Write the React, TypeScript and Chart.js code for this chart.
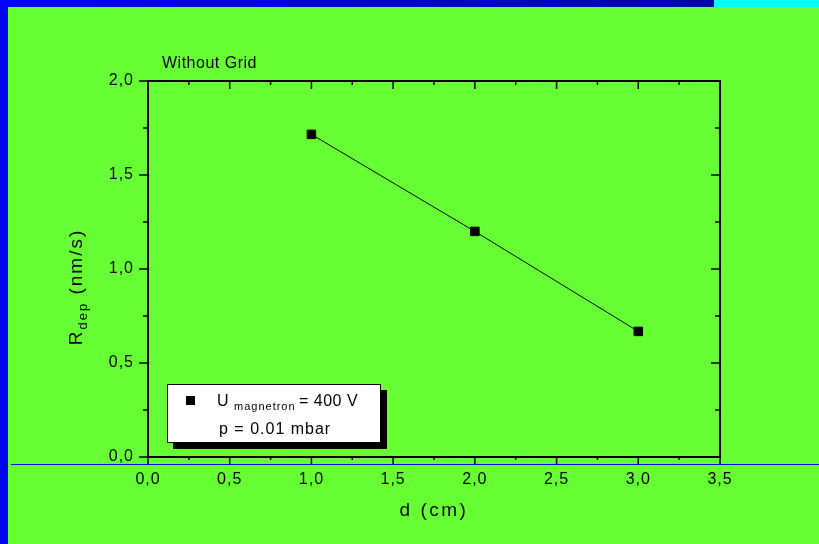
import { useEffect, useRef } from 'react';
import { Chart, registerables } from 'chart.js';

Chart.register(...registerables);

// Deposition rate versus target distance
const distances = [1.0, 2.0, 3.0];
const depositionRates = [1.716, 1.2, 0.668];

const xTickValues = [0, 0.5, 1.0, 1.5, 2.0, 2.5, 3.0, 3.5];
const yTickValues = [0, 0.5, 1.0, 1.5, 2.0];

const chartNote = 'Without Grid';
const xTitle = 'd (cm)';
const yTitleMain = 'R';
const yTitleSub = 'dep';
const yTitleRest = ' (nm/s)';
const legendMain = 'U';
const legendSub = 'magnetron';
const legendRest = '= 400 V';
const legendSecond = 'p = 0.01 mbar';

const FONT = '"Liberation Sans", Arial, Helvetica, sans-serif';
const fmt = (v: number) => v.toFixed(1).replace('.', ',');

const decorPlugin = {
  id: 'decor',
  beforeDraw(chart: any) {
    const { ctx, width, height } = chart;
    ctx.save();
    ctx.fillStyle = '#66ff33';
    ctx.fillRect(0, 0, width, height);
    const grad = ctx.createLinearGradient(0, 0, 714, 0);
    grad.addColorStop(0, '#0000ff');
    grad.addColorStop(1, '#0000b0');
    ctx.fillStyle = grad;
    ctx.fillRect(0, 0, 714, 7);
    ctx.fillStyle = '#00ffff';
    ctx.fillRect(714, 0, width - 714, 7);
    ctx.fillStyle = '#0000ff';
    ctx.fillRect(0, 0, 8, height);
    ctx.fillRect(11, 464, width - 11, 1);
    ctx.restore();
    // wider spacing for the tick labels drawn by the scales
    ctx.letterSpacing = '1px';
  },
  afterDraw(chart: any) {
    const { ctx, chartArea } = chart;
    const xs = chart.scales.x;
    const ys = chart.scales.y;
    const { left, right, top, bottom } = chartArea;
    ctx.save();
    ctx.letterSpacing = '0px';
    ctx.strokeStyle = '#000';

    // frame
    ctx.lineWidth = 2;
    ctx.strokeRect(left, top, right - left, bottom - top);

    // tick marks (major every 0.5, minor every 0.25)
    ctx.lineWidth = 1.5;
    ctx.beginPath();
    for (let i = 0; i <= 14; i++) {
      const v = i * 0.25;
      const major = i % 2 === 0;
      const px = xs.getPixelForValue(v);
      ctx.moveTo(px, bottom);
      ctx.lineTo(px, bottom + (major ? 7 : 3));
      ctx.moveTo(px, top);
      ctx.lineTo(px, top + (major ? 8 : 4));
    }
    for (let i = 0; i <= 8; i++) {
      const v = i * 0.25;
      const major = i % 2 === 0;
      const py = ys.getPixelForValue(v);
      ctx.moveTo(left, py);
      ctx.lineTo(left - (major ? 9 : 5), py);
      ctx.moveTo(right, py);
      ctx.lineTo(right - (major ? 9 : 5), py);
    }
    ctx.stroke();

    ctx.fillStyle = '#000';
    ctx.textBaseline = 'alphabetic';

    // note above the frame
    ctx.font = `16px ${FONT}`;
    ctx.letterSpacing = '0.5px';
    ctx.textAlign = 'left';
    ctx.fillText(chartNote, 162, 68);

    // x title
    ctx.font = `19px ${FONT}`;
    ctx.letterSpacing = '2.5px';
    ctx.textAlign = 'center';
    ctx.fillText(xTitle, 434, 516);

    // y title with subscript
    ctx.save();
    ctx.translate(82, 287);
    ctx.rotate(-Math.PI / 2);
    ctx.textAlign = 'left';
    ctx.letterSpacing = '2px';
    ctx.font = `19px ${FONT}`;
    const wR = ctx.measureText(yTitleMain).width;
    const wRest = ctx.measureText(yTitleRest).width;
    ctx.font = `13px ${FONT}`;
    const wSub = ctx.measureText(yTitleSub).width;
    let cx = -(wR + wSub + wRest) / 2;
    ctx.font = `19px ${FONT}`;
    ctx.fillText(yTitleMain, cx, 0);
    cx += wR;
    ctx.font = `13px ${FONT}`;
    ctx.fillText(yTitleSub, cx, 5);
    cx += wSub;
    ctx.font = `19px ${FONT}`;
    ctx.fillText(yTitleRest, cx, 0);
    ctx.restore();

    // legend box with drop shadow
    const bx = 167, by = 384, bw = 214, bh = 59;
    ctx.fillStyle = '#000';
    ctx.fillRect(bx + 6, by + 6, bw, bh);
    ctx.fillStyle = '#fff';
    ctx.fillRect(bx, by, bw, bh);
    ctx.lineWidth = 1;
    ctx.strokeStyle = '#000';
    ctx.strokeRect(bx + 0.5, by + 0.5, bw - 1, bh - 1);
    ctx.fillStyle = '#000';
    ctx.fillRect(186, 396, 9, 9);

    ctx.textAlign = 'left';
    ctx.font = `16px ${FONT}`;
    ctx.letterSpacing = '0.5px';
    ctx.fillText(legendMain, 217, 406);
    ctx.font = `11px ${FONT}`;
    ctx.letterSpacing = '1px';
    ctx.fillText(legendSub, 234, 410);
    ctx.font = `16px ${FONT}`;
    ctx.letterSpacing = '0.5px';
    ctx.fillText(legendRest, 299, 406);
    ctx.font = `16px ${FONT}`;
    ctx.letterSpacing = '1px';
    ctx.fillText(legendSecond, 219, 434);

    ctx.restore();
    ctx.letterSpacing = '0px';
  },
};

export default function App() {
  const canvasRef = useRef<HTMLCanvasElement | null>(null);

  useEffect(() => {
    document.body.style.margin = '0';
    const canvas = canvasRef.current;
    if (!canvas) return;
    const chart = new Chart(canvas, {
      type: 'line',
      data: {
        datasets: [
          {
            data: distances.map((d, i) => ({ x: d, y: depositionRates[i] })),
            borderColor: '#000',
            borderWidth: 1,
            backgroundColor: '#000',
            pointStyle: 'rect',
            pointRadius: 6,
            pointBorderWidth: 1,
            pointBorderColor: '#000',
            pointBackgroundColor: '#000',
            tension: 0,
          },
        ],
      },
      options: {
        animation: false,
        responsive: false,
        devicePixelRatio: 1,
        layout: { padding: { left: 0, top: 81, right: 99, bottom: 0 } },
        plugins: {
          legend: { display: false },
          tooltip: { enabled: false },
          title: { display: false },
        },
        scales: {
          x: {
            type: 'linear',
            min: 0,
            max: 3.5,
            grid: { display: false, drawTicks: false },
            border: { display: false },
            afterFit: (s: any) => {
              s.height = 87;
            },
            afterBuildTicks: (s: any) => {
              s.ticks = xTickValues.map((v) => ({ value: v }));
            },
            ticks: {
              padding: 13,
              color: '#000',
              font: { family: FONT, size: 16 },
              maxRotation: 0,
              autoSkip: false,
              callback: (v: any) => fmt(Number(v)),
            },
          },
          y: {
            type: 'linear',
            min: 0,
            max: 2,
            grid: { display: false, drawTicks: false },
            border: { display: false },
            afterFit: (s: any) => {
              s.width = 148;
            },
            afterBuildTicks: (s: any) => {
              s.ticks = yTickValues.map((v) => ({ value: v }));
            },
            ticks: {
              padding: 14,
              color: '#000',
              font: { family: FONT, size: 16 },
              autoSkip: false,
              callback: (v: any) => fmt(Number(v)),
            },
          },
        },
      },
      plugins: [decorPlugin],
    });
    return () => chart.destroy();
  }, []);

  return (
    <div style={{ position: 'absolute', left: 0, top: 0, width: 819, height: 544 }}>
      <canvas ref={canvasRef} width={819} height={544} style={{ display: 'block' }} />
    </div>
  );
}
